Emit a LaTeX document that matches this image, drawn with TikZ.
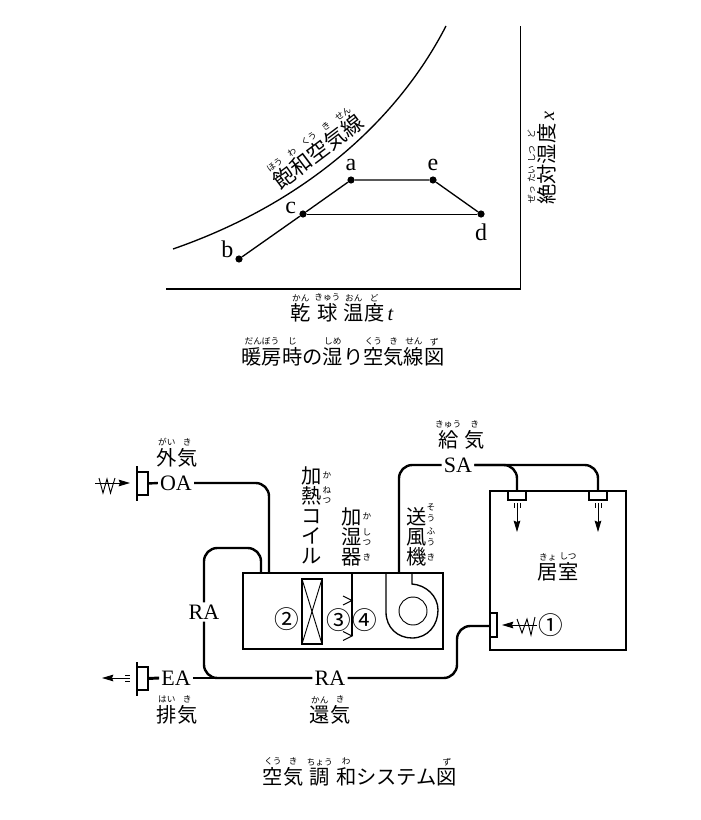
\documentclass[tikz,border=0pt]{standalone}
\usepackage{fontspec}
\setmainfont{Liberation Serif}
\newfontfamily\jp{Noto Sans CJK JP}
\usetikzlibrary{arrows.meta, positioning}
\newcommand{\rubyfont}{\jp\fontsize{6.5}{8}\selectfont}
\newcommand{\kanjifont}{\jp\fontsize{15.2}{15}\selectfont}
\newcommand{\rb}[2]{\vbox{\offinterlineskip\halign{\hfil##\hfil\cr{\rubyfont #2}\cr\noalign{\kern1.5pt}#1\cr}}}

\begin{document}
\begin{tikzpicture}[
    x=.75pt, y=-.75pt,
    axis/.style={line width=.8pt},
    proc/.style={line width=1pt},
    dot/.style={circle, fill=black, inner sep=0pt, minimum size=5.4pt},
    letter/.style={font=\fontsize{18}{18}\selectfont, inner sep=0pt},
    kanji/.style={font=\kanjifont, anchor=base, inner sep=0pt},
    stack/.style={font=\kanjifont, align=center, inner sep=0pt},
    ruby/.style={font=\rubyfont, align=center, inner sep=0pt},
    tag/.style={font=\fontsize{16.5}{16}\selectfont, inner sep=1.5pt},
    num/.style={font=\jp\fontsize{18.5}{18}\selectfont, inner sep=0pt},
    box/.style={rectangle, draw, line width=.8pt, inner sep=0pt, outer sep=0pt},
    duct/.style={line width=1.8pt, rounded corners=10pt},
    air/.style={-{Stealth[length=8.5pt, width=5pt, inset=1pt]}, line width=.7pt},
    fine/.style={line width=.7pt},
]
\useasboundingbox (0,0) rectangle (700,820);

% Axes and saturation curve
\draw[axis] (166,289) -- (520.5,289) -- (520.5,26);
\draw[proc] (173,249) .. controls (300,205) and (395,125) .. (446,26);

% State points
\node[dot] (a) at (351,180) {};
\node[dot] (e) at (433,180) {};
\node[dot] (d) at (481,214) {};
\node[dot] (c) at (303,214) {};
\node[dot] (b) at (239,259) {};
\draw[proc] (b) -- (c) -- (a) -- (e) -- (d);
\draw[fine] (c) -- (d);
\node[letter, above=4pt of a] (alabel) {a};
\node[letter, above=4pt of e] (elabel) {e};
\node[letter, below=4pt of d] (dlabel) {d};
\node[letter, above left=-2pt and 3pt of c] (clabel) {c};
\node[letter, above left=-1pt and 2pt of b] (blabel) {b};

% Chart texts
\node[kanji, font=\jp\fontsize{16}{16}\selectfont, rotate=37] (satur) at (323,158) {\rb{飽}{ほう}\rb{和}{わ}\rb{空}{くう}\rb{気}{き}\rb{線}{せん}};
\node[kanji, rotate=90] (humid) at (554,158) {\rb{絶}{ぜっ}\rb{対}{たい}\rb{湿}{しつ}\rb{度}{ど}\,{\rmfamily\itshape x}};
\node[kanji] (dryb) at (342,320.5) {\rb{乾}{かん}\,\rb{球}{きゅう}\,\rb{温}{おん}\rb{度}{ど}\,{\rmfamily\itshape t}};
\node[kanji] (chart) at (343,364) {\rb{暖房}{だんぼう}\rb{時}{じ}の\rb{湿}{しめ}り\rb{空}{くう}\rb{気}{き}\rb{線}{せん}\rb{図}{ず}};

% Air handling unit and room
\node[box, minimum width=200*.75pt, minimum height=76*.75pt] (AHU) at (343,611) {};
\node[box, minimum width=136*.75pt, minimum height=159*.75pt] (room) at (558,570.5) {};

% Coil
\node[box, line width=1.5pt, minimum width=20*.75pt, minimum height=65*.75pt] (coil) at (312,611.5) {};
\draw[fine] (coil.north west) -- (coil.south east);
\draw[fine] (coil.north east) -- (coil.south west);

% Humidifier
\coordinate (humT) at (352,573);
\coordinate (humB) at (352,636);
\draw[line width=1.3pt] (humT) -- (humB);
\foreach \ty in {600.5,636} {
    \draw[fine] (343,\ty-4.5) -- (352,\ty) -- (343,\ty+4.5);
}

% Fan
\draw[line width=1pt] (386,573) -- (386,612) .. controls (386,628) and (398,638) .. (412,638)
    .. controls (428,638) and (438,625) .. (438,610) .. controls (438,596) and (426,585) .. (412,584) -- (412,573);
\draw[fine] (413,611) circle [radius=14];

% Dampers
\node[box, minimum width=11*.75pt, minimum height=23*.75pt] (OAd) at (142.5,483.5) {};
\node[box, minimum width=11*.75pt, minimum height=23*.75pt] (EAd) at (142.5,678.5) {};
\node[box, minimum width=7*.75pt, minimum height=24*.75pt] (RAd) at (493.5,625) {};
\node[box, minimum width=18*.75pt, minimum height=9*.75pt, fill=white] (sup1) at (517,495.5) {};
\node[box, minimum width=18*.75pt, minimum height=9*.75pt, fill=white] (sup2) at (598,495.5) {};
\draw[axis] (OAd.north west) ++(0,-6) -- ++(0,35);
\draw[axis] (EAd.north west) ++(0,-5) -- ++(0,34);

% Duct labels
\node[tag] (OA) at (176,483) {OA};
\node[tag] (EA) at (176,678) {EA};
\node[tag] (SA) at (458,465) {SA};
\node[tag] (RAa) at (204,612) {RA};
\node[tag] (RAb) at (330,678) {RA};

% Ducts
\coordinate (OAin) at (269,573);
\coordinate (RAtop) at (261,548);
\coordinate (RAin) at (261,573);
\coordinate (SAout) at (399,573);
\coordinate (RAr) at (457,678);
\coordinate (RAu) at (457,626);
\draw[duct] (OAd.east) -- (OA.west);
\draw[duct] (OA.east) -| (OAin);
\draw[duct] (RAa.north) |- (RAtop) -- (RAin);
\draw[duct] (RAa.south) |- (RAb.west);
\draw[line width=2.2pt] (EAd.east) -- (EA.west);
\draw[line width=2.2pt] (EA.east) -- (216,678);
\draw[duct] (RAb.east) -- (RAr) -- (RAu) -- (RAd.west |- RAu);
\draw[duct] (SA.west) -| (SAout);
\draw[duct] (SA.east) -| (sup1.north);
\draw[duct] (SA.east) -| (sup2.north);

% Supply outlets
\coordinate (tip1) at (517,532);
\coordinate (tip2) at (598,532);
\draw[air] ([yshift=-2pt]sup1.south) -- (tip1);
\draw[air] ([yshift=-2pt]sup2.south) -- (tip2);
\foreach \bx in {514,520,595,601} {
    \draw[fine] (\bx,503) -- (\bx,508);
}

% Flows at the ends
\coordinate (OAs) at (95,483);
\coordinate (OAt) at (130,483);
\coordinate (EAs) at (125,678);
\coordinate (EAt) at (102,678);
\coordinate (Rs) at (537,625);
\coordinate (Rt) at (502,625);
\draw[air] (OAs) -- (OAt);
\draw[air] (EAs) -- (EAt);
\draw[fine] (99,478) -- (103,493) -- (107,479) -- (110.5,493) -- (115,478);
\foreach \by in {675,678,681} {
    \draw[line width=.5pt] (125,\by) -- (130,\by);
}
\draw[air] (Rs) -- (Rt);
\draw[fine] (517,619) -- (522,633) -- (527,619) -- (531,635) -- (535,617);

% Numbers
\node[num] (n1) at (551,625) {①};
\node[num] (n2) at (287,619) {②};
\node[num] (n3) at (339,620) {③};
\node[num] (n4) at (365,620) {④};

% Part names
\node[kanji] (outer) at (177,465) {\rb{外}{がい}\rb{気}{き}};
\node[kanji] (exh) at (177,722) {\rb{排}{はい}\rb{気}{き}};
\node[kanji] (ret) at (330,722) {\rb{還}{かん}\rb{気}{き}};
\node[kanji] (sup) at (460,447) {\rb{給}{きゅう}\,\rb{気}{き}};
\node[kanji] (rm) at (558,579) {\rb{居}{きょ}\rb{室}{しつ}};
\node[stack] (coilT) at (312,515) {加\\熱\\コ\\イ\\ル};
\node[ruby] (coilRa) at (327,475) {か};
\node[ruby] (coilRb) at (327,495) {ね\\つ};
\node[stack] (humT2) at (351.5,537) {加\\湿\\器};
\node[ruby] (humRa) at (367,516) {か};
\node[ruby] (humRb) at (367,537) {し\\つ};
\node[ruby] (humRc) at (367,557) {き};
\node[stack] (fanT) at (417,537) {送\\風\\機};
\node[ruby] (fanRa) at (431,513) {そ\\う};
\node[ruby] (fanRb) at (431,537) {ふ\\う};
\node[ruby] (fanRc) at (431,557) {き};

% Title
\node[kanji] (sys) at (360,784) {\rb{空}{くう}\rb{気}{き}\,\rb{調}{ちょう}\,\rb{和}{わ}システム\rb{図}{ず}};
\end{tikzpicture}
\end{document}
